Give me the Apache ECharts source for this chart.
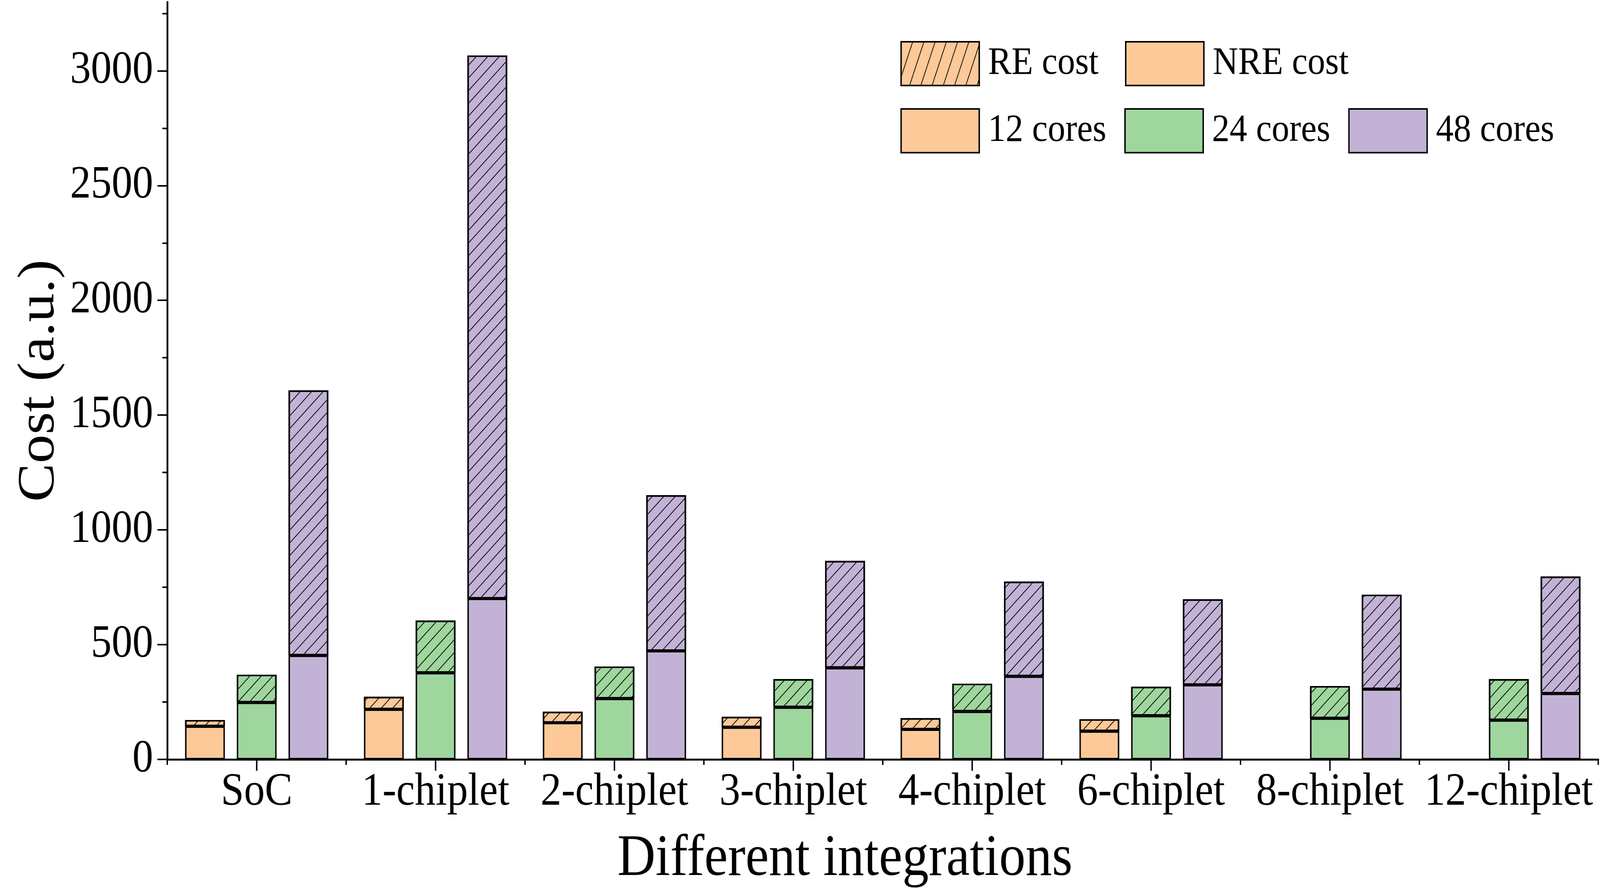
<!DOCTYPE html>
<html>
<head>
<meta charset="utf-8">
<script src="https://cdn.jsdelivr.net/npm/echarts@6/dist/echarts.min.js"></script>
<style>
html,body{margin:0;padding:0;background:#fff;overflow:hidden;}
#wrap{position:relative;overflow:hidden;}
#chart{width:4544px;height:2282px;position:absolute;left:0;top:0;}
</style>
</head>
<body>
<div id="wrap"><div id="chart"></div></div>
<script>
// ---- data ----
var categories = ['SoC', '1-chiplet', '2-chiplet', '3-chiplet', '4-chiplet', '6-chiplet', '8-chiplet', '12-chiplet'];
var nre12 = [144, 218, 160, 140, 131, 123, null, null];
var re12  = [28, 55, 48, 46, 49, 52, null, null];
var nre24 = [248, 377, 265, 227, 209, 190, 179, 171];
var re24  = [121, 228, 140, 123, 121, 127, 141, 179];
var nre48 = [453, 701, 473, 399, 362, 325, 306, 287];
var re48  = [1155, 2366, 678, 466, 413, 373, 412, 510];
var yTickLabels = [0, 500, 1000, 1500, 2000, 2500, 3000];
var yMinorTicks = [250, 750, 1250, 1750, 2250, 2750, 3250];
var yMax = 3300;
var legendRow1 = ['RE cost', 'NRE cost'];
var legendRow2 = ['12 cores', '24 cores', '48 cores'];

// ---- fit the 4544x2282 design onto the actual viewport ----
var W = 4544, H = 2282;
var vw = window.innerWidth || W, vh = window.innerHeight || H;
var sx = vw / W, sy = vh / H;
var wrap = document.getElementById('wrap');
wrap.style.width = vw + 'px';
wrap.style.height = vh + 'px';
var el = document.getElementById('chart');
el.style.transformOrigin = '0 0';
el.style.transform = 'scale(' + sx + ',' + sy + ')';

var FONT = "'Liberation Serif', 'Times New Roman', serif";
var cOrange = '#FDC998', cGreen = '#9FD69E', cPurple = '#C2B3D6';
var hatch = {
  symbol: 'rect', symbolSize: 1, color: '#000',
  dashArrayX: [10, 0], dashArrayY: [2, 21], rotation: -Math.PI / 4
};
var hatchLegend = {
  symbol: 'rect', symbolSize: 1, color: '#000',
  dashArrayX: [10, 0], dashArrayY: [2, 28], rotation: -Math.PI * 70 / 180
};

function bar(name, stack, data, color, hatched) {
  var st = { color: color, borderColor: '#000', borderWidth: 4 };
  if (hatched) st.decal = hatch;
  return {
    type: 'bar', name: name, stack: stack, data: data,
    barWidth: 113, barGap: '30%',
    itemStyle: st, emphasis: { disabled: true }, animation: false
  };
}

function legendAt(item, left, top) {
  return {
    left: left, top: top, padding: 0, orient: 'horizontal',
    itemWidth: 222, itemHeight: 112, itemGap: 0, icon: 'rect',
    itemStyle: { borderColor: '#000', borderWidth: 4 },
    textStyle: { fontFamily: FONT, fontSize: 100, color: '#000', padding: [0, 0, 0, 20] },
    selectedMode: false,
    data: [item]
  };
}

var chart = echarts.init(el, null, { renderer: 'canvas', width: W, height: H });
chart.setOption({
  animation: false,
  backgroundColor: '#fff',
  grid: { left: 475, right: 5, top: 5, bottom: 336, containLabel: false },
  legend: [
    legendAt({ name: legendRow1[0], itemStyle: { decal: hatchLegend } }, 2557, 105),
    legendAt(legendRow1[1], 3195, 105),
    legendAt(legendRow2[0], 2557, 277),
    legendAt(legendRow2[1], 3193, 277),
    legendAt(legendRow2[2], 3829, 277)
  ],
  xAxis: [
    {
      type: 'category', data: categories, position: 'bottom',
      name: 'Different integrations', nameLocation: 'middle', nameGap: 182,
      nameTextStyle: { fontFamily: FONT, fontSize: 150, color: '#000', padding: [0, 215, 0, 0] },
      axisLine: { show: true, lineStyle: { color: '#000', width: 5 } },
      axisTick: { show: true, alignWithLabel: true, length: 29, lineStyle: { color: '#000', width: 4 } },
      axisLabel: { fontFamily: FONT, fontSize: 118, color: '#000', margin: 26, interval: 0 },
      splitLine: { show: false }
    },
    {
      type: 'category', data: categories, position: 'bottom',
      axisLine: { show: false },
      axisTick: { show: true, alignWithLabel: false, length: 14, lineStyle: { color: '#000', width: 4 } },
      axisLabel: { show: false },
      splitLine: { show: false }
    }
  ],
  yAxis: [
    {
      type: 'value', min: 0, max: yMax, position: 'left',
      name: 'Cost (a.u.)', nameLocation: 'middle', nameGap: 288,
      nameTextStyle: { fontFamily: FONT, fontSize: 148, color: '#000' },
      axisLine: { show: true, lineStyle: { color: '#000', width: 5 } },
      axisTick: { show: true, length: 28, customValues: yTickLabels, lineStyle: { color: '#000', width: 4 } },
      axisLabel: {
        fontFamily: FONT, fontSize: 118, color: '#000', margin: 40, customValues: yTickLabels,
        formatter: function (v) { return String(v); }
      },
      splitLine: { show: false }
    },
    {
      type: 'value', min: 0, max: yMax, position: 'left', offset: 0,
      axisLine: { show: false },
      axisTick: { show: true, length: 14, customValues: yMinorTicks, lineStyle: { color: '#000', width: 4 } },
      axisLabel: { show: false, customValues: yMinorTicks },
      splitLine: { show: false }
    }
  ],
  series: [
    bar('12 cores', 's12', nre12, cOrange, false),
    bar('RE cost', 's12', re12, cOrange, true),
    bar('NRE cost', 's12', [], cOrange, false),
    bar('24 cores', 's24', nre24, cGreen, false),
    bar('RE cost', 's24', re24, cGreen, true),
    bar('48 cores', 's48', nre48, cPurple, false),
    bar('RE cost', 's48', re48, cPurple, true)
  ]
});
</script>
</body>
</html>
